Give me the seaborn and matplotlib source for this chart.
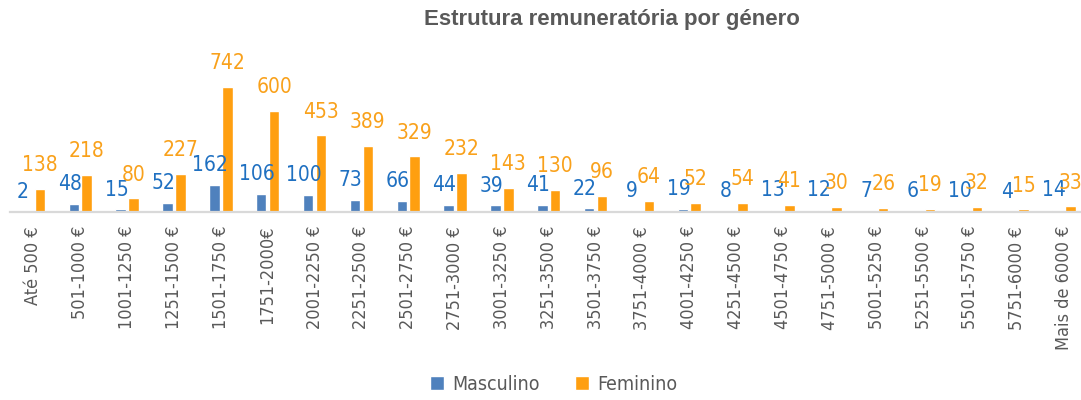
import pandas as pd
import seaborn as sns
import matplotlib.pyplot as plt

categories = ["Até 500 €", "501-1000 €", "1001-1250 €", "1251-1500 €", "1501-1750 €",
              "1751-2000€", "2001-2250 €", "2251-2500 €", "2501-2750 €", "2751-3000 €",
              "3001-3250 €", "3251-3500 €", "3501-3750 €", "3751-4000 €", "4001-4250 €",
              "4251-4500 €", "4501-4750 €", "4751-5000 €", "5001-5250 €", "5251-5500 €",
              "5501-5750 €", "5751-6000 €", "Mais de 6000 €"]
masculino = [2, 48, 15, 52, 162, 106, 100, 73, 66, 44, 39, 41, 22, 9, 19, 8, 13, 12, 7, 6, 10, 4, 14]
feminino = [138, 218, 80, 227, 742, 600, 453, 389, 329, 232, 143, 130, 96, 64, 52, 54, 41, 30, 26, 19, 32, 15, 33]
generos = ["Masculino", "Feminino"]

bar_colors = ["#4F81BD", "#FF9F10"]
label_colors = ["#1F70C1", "#F9A11B"]
gray = "#595959"

sns.set_theme(style="white")
plt.rcParams['font.family'] = ['DejaVu Sans']
plt.rcParams['font.stretch'] = 'condensed'

df = pd.DataFrame({"faixa": categories, "Masculino": masculino, "Feminino": feminino})
df = df.melt(id_vars="faixa", var_name="genero", value_name="n")

fig = plt.figure(figsize=(10.81, 4.0), dpi=100)
ax = fig.add_axes([10 / 1081, 1 - 212 / 400, 1077.5 / 1081, 152 / 400])

sns.barplot(data=df, x="faixa", y="n", hue="genero", hue_order=generos,
            palette=bar_colors, width=0.55, gap=0.185, saturation=1,
            legend=True, ax=ax)

# blue labels nudged left, orange ones a bit higher, so neighbours collide less
for cont, c, off in zip(ax.containers, label_colors, [(-3, 7), (0, 10)]):
    for bar in cont:
        h = bar.get_height()
        ax.annotate(f"{h:.0f}", (bar.get_x() + bar.get_width() / 2, h),
                    xytext=off, textcoords="offset points",
                    ha="center", va="bottom", color=c, fontsize=15)

ax.set_ylim(0, 900)
ax.set_xlim(-0.5, len(categories) - 0.5)
ax.set_xlabel("")
ax.set_ylabel("")
ax.set_yticks([])
for s in ["top", "right", "left"]:
    ax.spines[s].set_visible(False)
ax.spines["bottom"].set_color("#D9D9D9")
ax.spines["bottom"].set_linewidth(1.6)
ax.tick_params(axis="x", length=0, pad=10, labelsize=13, labelcolor=gray)
plt.setp(ax.get_xticklabels(), rotation=90, va="top", ha="center")

handles, labels = ax.get_legend_handles_labels()
ax.legend_.remove()
fig.legend(handles, labels, loc="center", bbox_to_anchor=(554 / 1081, 1 - 384 / 400),
           ncol=2, frameon=False, fontsize=14, labelcolor=gray,
           handlelength=0.7, handleheight=0.7, handletextpad=0.45, columnspacing=1.8)

fig.text(612 / 1081, 1 - 20 / 400, "Estrutura remuneratória por género", ha="center", va="center",
         fontsize=16, fontweight="bold", color=gray, family=['Liberation Sans', 'DejaVu Sans'],
         stretch='normal')

fig.savefig("out.png", dpi=100)
